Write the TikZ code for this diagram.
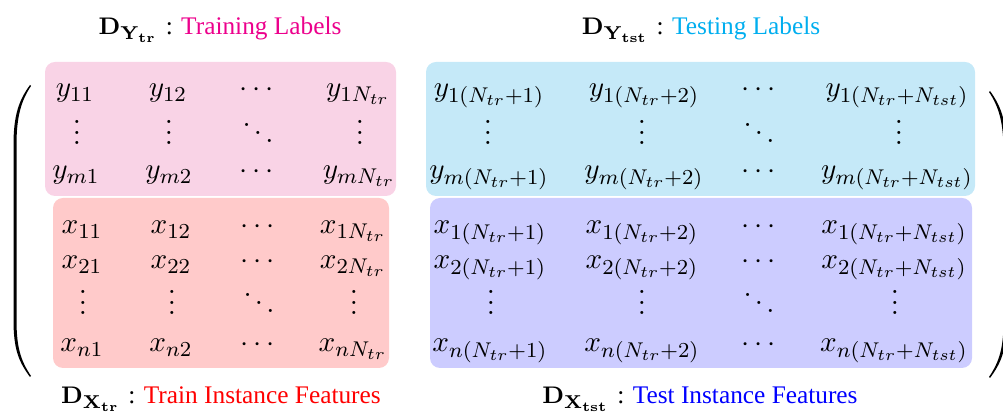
\documentclass[tikz,border=0pt]{standalone}
\usepackage[no-math]{fontspec}
\newfontfamily\timesf{Liberation Serif}
\definecolor{pinkbg}{RGB}{249,211,230}
\definecolor{redbg}{RGB}{255,202,202}
\definecolor{cyanbg}{RGB}{197,233,248}
\definecolor{bluebg}{RGB}{204,204,255}
\definecolor{trlab}{RGB}{236,0,140}
\definecolor{tslab}{RGB}{0,174,239}
\begin{document}
\begin{tikzpicture}[x=0.375pt,y=-0.375pt,
  ent/.style={anchor=base,inner sep=0pt,font=\fontsize{10.95}{13}\selectfont},
  lab/.style={anchor=base,inner sep=0pt,font=\fontsize{9.5}{11}\selectfont},
  blk/.style={rounded corners=3.75pt}]
\useasboundingbox (0,0) rectangle (1003,412);
% blocks
\fill[pinkbg,blk] (45,62) rectangle (396,196);
\fill[redbg,blk] (53,198) rectangle (389,368);
\fill[cyanbg,blk] (426,62) rectangle (975,196);
\fill[bluebg,blk] (430,198) rectangle (972,368);
% parentheses
\fill (30,85) .. controls (19,100) and (13.5,115) .. (13.5,145) -- (13.5,320)
  .. controls (13.5,350) and (19,362) .. (30,377) -- (31,376)
  .. controls (21,361) and (16.5,348) .. (16.5,320) -- (16.5,145)
  .. controls (16.5,117) and (21,101) .. (31,86) -- cycle;
\fill (990,91) .. controls (1001,106) and (1006.5,121) .. (1006.5,151) -- (1006.5,321)
  .. controls (1006.5,351) and (1001,363) .. (990,378) -- (989,377)
  .. controls (999,362) and (1003.5,349) .. (1003.5,321) -- (1003.5,151)
  .. controls (1003.5,123) and (999,107) .. (989,92) -- cycle;
% train labels
\node[ent] (a11) at (75,97) {$y_{11}$};
\node[ent] (a12) at (168,97) {$y_{12}$};
\node[ent] (a13) at (257,97) {$\cdots$};
\node[ent] (a14) at (358,97) {$y_{1N_{tr}}$};
\node[ent] (a21) at (77,145) {$\vdots$};
\node[ent] (a22) at (169,145) {$\vdots$};
\node[ent] (a23) at (258,145) {$\ddots$};
\node[ent] (a24) at (360,145) {$\vdots$};
\node[ent] (a31) at (76,179) {$y_{m1}$};
\node[ent] (a32) at (169,179) {$y_{m2}$};
\node[ent] (a33) at (257,179) {$\cdots$};
\node[ent] (a34) at (359,179) {$y_{mN_{tr}}$};
% train features
\node[ent] (b11) at (82,234) {$x_{11}$};
\node[ent] (b12) at (171,234) {$x_{12}$};
\node[ent] (b13) at (258,234) {$\cdots$};
\node[ent] (b14) at (353,234) {$x_{1N_{tr}}$};
\node[ent] (b21) at (82,269) {$x_{21}$};
\node[ent] (b22) at (171,269) {$x_{22}$};
\node[ent] (b23) at (258,269) {$\cdots$};
\node[ent] (b24) at (353,269) {$x_{2N_{tr}}$};
\node[ent] (b31) at (83,315) {$\vdots$};
\node[ent] (b32) at (172,315) {$\vdots$};
\node[ent] (b33) at (259,315) {$\ddots$};
\node[ent] (b34) at (354,315) {$\vdots$};
\node[ent] (b41) at (82,352) {$x_{n1}$};
\node[ent] (b42) at (171,352) {$x_{n2}$};
\node[ent] (b43) at (258,352) {$\cdots$};
\node[ent] (b44) at (353,352) {$x_{nN_{tr}}$};
% test labels
\node[ent] (c11) at (489,97) {$y_{1(N_{tr}+1)}$};
\node[ent] (c12) at (644,97) {$y_{1(N_{tr}+2)}$};
\node[ent] (c13) at (759,97) {$\cdots$};
\node[ent] (c14) at (897,97) {$y_{1(N_{tr}+N_{tst})}$};
\node[ent] (c21) at (488,145) {$\vdots$};
\node[ent] (c22) at (642,145) {$\vdots$};
\node[ent] (c23) at (759,145) {$\ddots$};
\node[ent] (c24) at (899,145) {$\vdots$};
\node[ent] (c31) at (489,179) {$y_{m(N_{tr}+1)}$};
\node[ent] (c32) at (644,179) {$y_{m(N_{tr}+2)}$};
\node[ent] (c33) at (759,179) {$\cdots$};
\node[ent] (c34) at (897,179) {$y_{m(N_{tr}+N_{tst})}$};
% test features
\node[ent] (d11) at (490,234) {$x_{1(N_{tr}+1)}$};
\node[ent] (d12) at (642,234) {$x_{1(N_{tr}+2)}$};
\node[ent] (d13) at (759,234) {$\cdots$};
\node[ent] (d14) at (894,234) {$x_{1(N_{tr}+N_{tst})}$};
\node[ent] (d21) at (490,269) {$x_{2(N_{tr}+1)}$};
\node[ent] (d22) at (642,269) {$x_{2(N_{tr}+2)}$};
\node[ent] (d23) at (759,269) {$\cdots$};
\node[ent] (d24) at (894,269) {$x_{2(N_{tr}+N_{tst})}$};
\node[ent] (d31) at (491,315) {$\vdots$};
\node[ent] (d32) at (642,315) {$\vdots$};
\node[ent] (d33) at (759,315) {$\ddots$};
\node[ent] (d34) at (895,315) {$\vdots$};
\node[ent] (d41) at (490,352) {$x_{n(N_{tr}+1)}$};
\node[ent] (d42) at (642,352) {$x_{n(N_{tr}+2)}$};
\node[ent] (d43) at (759,352) {$\cdots$};
\node[ent] (d44) at (894,352) {$x_{n(N_{tr}+N_{tst})}$};
% captions
\node[lab] (lyt) at (220,35) {$\mathbf{D}_{\mathbf{Y}_{\mathbf{tr}}}$ {\timesf: \textcolor{trlab}{Training Labels}}};
\node[lab] (lys) at (701,35) {$\mathbf{D}_{\mathbf{Y}_{\mathbf{tst}}}$ {\timesf: \textcolor{tslab}{Testing Labels}}};
\node[lab] (lxt) at (221,404) {$\mathbf{D}_{\mathbf{X}_{\mathbf{tr}}}$ {\timesf: \textcolor{red}{Train Instance Features}}};
\node[lab] (lxs) at (700,404) {$\mathbf{D}_{\mathbf{X}_{\mathbf{tst}}}$ {\timesf: \textcolor{blue}{Test Instance Features}}};
\end{tikzpicture}
\end{document}
